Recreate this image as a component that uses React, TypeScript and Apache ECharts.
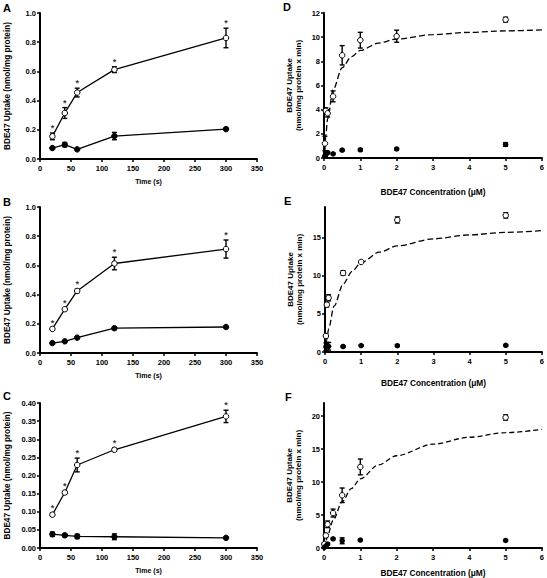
import React, { useEffect, useRef } from 'react';
import * as echarts from 'echarts';

// ---- Time course panels (A, B, C) ----
const timePoints = [20, 40, 60, 120, 300];
const timeTicks = [0, 50, 100, 150, 200, 250, 300, 350];

const openA = [0.155, 0.315, 0.455, 0.612, 0.829];
const openAErr = [0.023, 0.037, 0.03, 0.02, 0.067];
const filledA = [0.075, 0.098, 0.066, 0.157, 0.205];
const filledAErr = [0.005, 0.015, 0.005, 0.025, 0.006];

const openB = [0.165, 0.3, 0.425, 0.613, 0.712];
const openBErr = [0.008, 0.008, 0.012, 0.043, 0.062];
const filledB = [0.068, 0.08, 0.105, 0.17, 0.178];
const filledBErr = [0.005, 0.005, 0.006, 0.01, 0.005];

const openC = [0.092, 0.153, 0.229, 0.271, 0.363];
const openCErr = [0.004, 0.004, 0.019, 0.004, 0.017];
const filledC = [0.038, 0.035, 0.032, 0.031, 0.028];
const filledCErr = [0.006, 0.004, 0.006, 0.008, 0.002];

// ---- Concentration panels (D, E, F) ----
const concD = [0.025, 0.05, 0.1, 0.25, 0.5, 1, 2, 5];
const openD = [1.2, 3.9, 3.7, 5.1, 8.5, 9.75, 10.08, 11.45];
const openDErr = [0.6, 0.25, 0.3, 0.45, 0.8, 0.65, 0.5, 0.2];
const filledD = [0.15, 0.3, 0.45, 0.35, 0.65, 0.68, 0.75, 1.12];
const filledDErr = [0.05, 0.05, 0.08, 0.05, 0.06, 0.1, 0.06, 0.15];

const concE = [0.025, 0.05, 0.1, 0.5, 1, 2, 5];
const openE = [2.1, 6.2, 7.1, 10.35, 11.8, 17.3, 17.9];
const openEErr = [0.2, 0.3, 0.4, 0.3, 0.15, 0.4, 0.35];
const filledE = [0.7, 0.85, 0.75, 0.72, 0.85, 0.83, 0.88];
const filledEErr = [0.5, 0.4, 0.5, 0.1, 0.1, 0.1, 0.1];

const concF = [0.01, 0.05, 0.1, 0.25, 0.5, 1, 5];
const openF = [0.6, 1.9, 3.6, 5.3, 8.0, 12.3, 19.8];
const openFErr = [0.2, 0.3, 0.5, 0.6, 1.1, 1.2, 0.4];
const filledF = [0.1, 0.3, 0.6, 1.4, 1.1, 1.2, 1.15];
const filledFErr = [0.1, 0.1, 0.15, 0.1, 0.45, 0.1, 0.1];

// dashed fitted curves
const fitX = [0, 0.025, 0.05, 0.1, 0.25, 0.5, 0.75, 1, 1.5, 2, 3, 4, 5, 6];
const fitD = [0, 1.05, 1.91, 3.26, 5.65, 7.47, 8.37, 8.9, 9.51, 9.85, 10.21, 10.4, 10.52, 10.6];
const fitE = [0, 0.88, 1.66, 3.04, 6.0, 8.88, 10.58, 11.7, 13.08, 13.9, 14.83, 15.35, 15.67, 15.9];
const fitF = [0, 0.5, 1.0, 1.91, 4.2, 7.0, 9.0, 10.5, 12.6, 14.0, 15.75, 16.8, 17.5, 18.0];

const concTicks = [0, 1, 2, 3, 4, 5, 6];
const yTicksE = [0, 5, 10, 15];
const yTicksF = [0, 5, 10, 15, 20];

const FONT = '"Liberation Sans", Arial, sans-serif';

const zip3 = (xs: number[], ys: number[], es: number[]) => xs.map((x, i) => [x, ys[i], es[i]]);
const zip2 = (xs: number[], ys: number[]) => xs.map((x, i) => [x, ys[i]]);

const errRender = (_params: any, api: any) => {
  const x = api.value(0);
  const y = api.value(1);
  const e = api.value(2);
  const top = api.coord([x, y + e]);
  const bot = api.coord([x, y - e]);
  const w = 2.5;
  const style = { stroke: '#000', lineWidth: 1.4 };
  return {
    type: 'group',
    children: [
      { type: 'line', shape: { x1: top[0], y1: top[1], x2: bot[0], y2: bot[1] }, style },
      { type: 'line', shape: { x1: top[0] - w, y1: top[1], x2: top[0] + w, y2: top[1] }, style },
      { type: 'line', shape: { x1: bot[0] - w, y1: bot[1], x2: bot[0] + w, y2: bot[1] }, style },
    ],
  };
};

const labelStyle = { color: '#000', fontSize: 7.5, fontWeight: 'bold' as const, fontFamily: FONT };
const nameStyle = { color: '#000', fontWeight: 'bold' as const, fontFamily: FONT };
const axisLine = { show: true, onZero: false, lineStyle: { color: '#000', width: 2 } };
const axisTick = { show: true, length: 3, lineStyle: { color: '#000', width: 1.5 } };

function timeXAxis(gridIndex: number) {
  return {
    gridIndex,
    type: 'value',
    min: timeTicks[0],
    max: timeTicks[timeTicks.length - 1],
    interval: 50,
    axisLine,
    axisTick,
    axisLabel: { ...labelStyle, margin: 5 },
    splitLine: { show: false },
    name: 'Time (s)',
    nameLocation: 'middle',
    nameGap: 19,
    nameTextStyle: { ...nameStyle, fontSize: 7 },
  };
}

function concXAxis(gridIndex: number, nameGap: number) {
  return {
    gridIndex,
    type: 'value',
    min: concTicks[0],
    max: concTicks[concTicks.length - 1],
    interval: 1,
    axisLine,
    axisTick,
    axisLabel: { ...labelStyle, margin: 5 },
    splitLine: { show: false },
    name: 'BDE47 Concentration (μM)',
    nameLocation: 'middle',
    nameGap,
    nameTextStyle: { ...nameStyle, fontSize: 8.3 },
  };
}

function uptakeYAxis(gridIndex: number, max: number, interval: number, digits: number) {
  return {
    gridIndex,
    type: 'value',
    min: 0,
    max,
    interval,
    axisLine,
    axisTick,
    axisLabel: { ...labelStyle, margin: 4, formatter: (v: number) => v.toFixed(digits) },
    splitLine: { show: false },
    name: 'BDE47 Uptake (nmol/mg protein)',
    nameLocation: 'middle',
    nameGap: 29,
    nameTextStyle: { ...nameStyle, fontSize: 8.2 },
  };
}

function rateYAxis(gridIndex: number, max: number, ticks: number[] | null, interval: number) {
  const ax: any = {
    gridIndex,
    type: 'value',
    min: 0,
    max,
    axisLine,
    axisTick: { ...axisTick },
    axisLabel: { ...labelStyle, margin: 4 },
    splitLine: { show: false },
    name: 'BDE47 Uptake\n(nmol/mg protein x min)',
    nameLocation: 'middle',
    nameGap: 21,
    nameTextStyle: { ...nameStyle, fontSize: 8, lineHeight: 9 },
  };
  if (ticks) {
    ax.axisTick.customValues = ticks;
    ax.axisLabel.customValues = ticks;
  } else {
    ax.interval = interval;
  }
  return ax;
}

function timeSeries(idx: number, open: number[], openErr: number[], filled: number[], filledErr: number[]) {
  return [
    {
      type: 'custom',
      xAxisIndex: idx,
      yAxisIndex: idx,
      renderItem: errRender,
      data: zip3(timePoints, open, openErr),
      z: 1,
      silent: true,
    },
    {
      type: 'custom',
      xAxisIndex: idx,
      yAxisIndex: idx,
      renderItem: errRender,
      data: zip3(timePoints, filled, filledErr),
      z: 1,
      silent: true,
    },
    {
      type: 'line',
      xAxisIndex: idx,
      yAxisIndex: idx,
      data: zip2(timePoints, open),
      symbol: 'circle',
      symbolSize: 5.5,
      itemStyle: { color: '#fff', borderColor: '#000', borderWidth: 1 },
      lineStyle: { color: '#000', width: 1.3 },
      z: 3,
    },
    {
      type: 'line',
      xAxisIndex: idx,
      yAxisIndex: idx,
      data: zip2(timePoints, filled),
      symbol: 'circle',
      symbolSize: 5.5,
      itemStyle: { color: '#000', borderColor: '#000', borderWidth: 1 },
      lineStyle: { color: '#000', width: 1.3 },
      z: 3,
    },
    {
      // significance asterisks, placed just above each open-circle error bar
      type: 'scatter',
      xAxisIndex: idx,
      yAxisIndex: idx,
      data: timePoints.map((t, i) => [t, open[i] + openErr[i]]),
      symbol: 'circle',
      symbolSize: 1,
      itemStyle: { color: 'rgba(0,0,0,0)' },
      label: {
        show: true,
        position: 'top',
        distance: 0,
        formatter: '*',
        color: '#000',
        fontSize: 9,
        fontWeight: 'bold',
        fontFamily: FONT,
      },
      z: 4,
      silent: true,
    },
  ];
}

function concSeries(
  idx: number,
  conc: number[],
  open: number[],
  openErr: number[],
  filled: number[],
  filledErr: number[],
  fit: number[],
  dash: number[]
) {
  return [
    {
      type: 'line',
      xAxisIndex: idx,
      yAxisIndex: idx,
      data: zip2(fitX, fit),
      symbol: 'none',
      smooth: 0.3,
      smoothMonotone: 'x',
      lineStyle: { color: '#000', width: 1.3, type: dash },
      z: 1,
      silent: true,
    },
    {
      type: 'custom',
      xAxisIndex: idx,
      yAxisIndex: idx,
      renderItem: errRender,
      data: zip3(conc, open, openErr),
      z: 2,
      silent: true,
    },
    {
      type: 'custom',
      xAxisIndex: idx,
      yAxisIndex: idx,
      renderItem: errRender,
      data: zip3(conc, filled, filledErr),
      z: 2,
      silent: true,
    },
    {
      type: 'scatter',
      xAxisIndex: idx,
      yAxisIndex: idx,
      data: zip2(conc, open),
      symbol: 'circle',
      symbolSize: 5.5,
      itemStyle: { color: '#fff', borderColor: '#000', borderWidth: 1, opacity: 1 },
      z: 3,
    },
    {
      type: 'scatter',
      xAxisIndex: idx,
      yAxisIndex: idx,
      data: zip2(conc, filled),
      symbol: 'circle',
      symbolSize: 5.5,
      itemStyle: { color: '#000', opacity: 1 },
      z: 3,
    },
  ];
}

const panelLetter = (text: string, left: number, top: number) => ({
  type: 'text',
  left,
  top,
  style: { text, font: 'bold 11px ' + FONT, fill: '#000' },
});

export default function App() {
  const ref = useRef<HTMLDivElement>(null);
  useEffect(() => {
    document.body.style.margin = '0';
    if (!ref.current) return;
    const chart = echarts.init(ref.current, undefined, { renderer: 'svg' });
    const option: any = {
      animation: false,
      backgroundColor: '#fff',
      grid: [
        { left: 40, top: 13, width: 217, height: 146 },
        { left: 40, top: 207, width: 217, height: 146 },
        { left: 40, top: 403, width: 217, height: 145 },
        { left: 324, top: 13, width: 220, height: 145 },
        { left: 325, top: 207, width: 219, height: 145 },
        { left: 324, top: 403, width: 220, height: 145 },
      ],
      xAxis: [
        timeXAxis(0),
        timeXAxis(1),
        timeXAxis(2),
        concXAxis(3, 30),
        concXAxis(4, 27),
        concXAxis(5, 21),
      ],
      yAxis: [
        uptakeYAxis(0, 1.0, 0.2, 1),
        uptakeYAxis(1, 1.0, 0.2, 1),
        uptakeYAxis(2, 0.4, 0.05, 2),
        rateYAxis(3, 12, null, 2),
        rateYAxis(4, 19, yTicksE, 5),
        rateYAxis(5, 22, yTicksF, 5),
      ],
      series: [
        ...timeSeries(0, openA, openAErr, filledA, filledAErr),
        ...timeSeries(1, openB, openBErr, filledB, filledBErr),
        ...timeSeries(2, openC, openCErr, filledC, filledCErr),
        ...concSeries(3, concD, openD, openDErr, filledD, filledDErr, fitD, [6, 3]),
        ...concSeries(4, concE, openE, openEErr, filledE, filledEErr, fitE, [6, 3]),
        ...concSeries(5, concF, openF, openFErr, filledF, filledFErr, fitF, [5, 3]),
      ],
      graphic: [
        panelLetter('A', 3, 2),
        panelLetter('B', 3, 196),
        panelLetter('C', 3, 390),
        panelLetter('D', 283, 1),
        panelLetter('E', 284, 195),
        panelLetter('F', 285, 391),
      ],
    };
    chart.setOption(option);
    return () => chart.dispose();
  }, []);
  return <div ref={ref} style={{ width: 547, height: 578 }} />;
}
